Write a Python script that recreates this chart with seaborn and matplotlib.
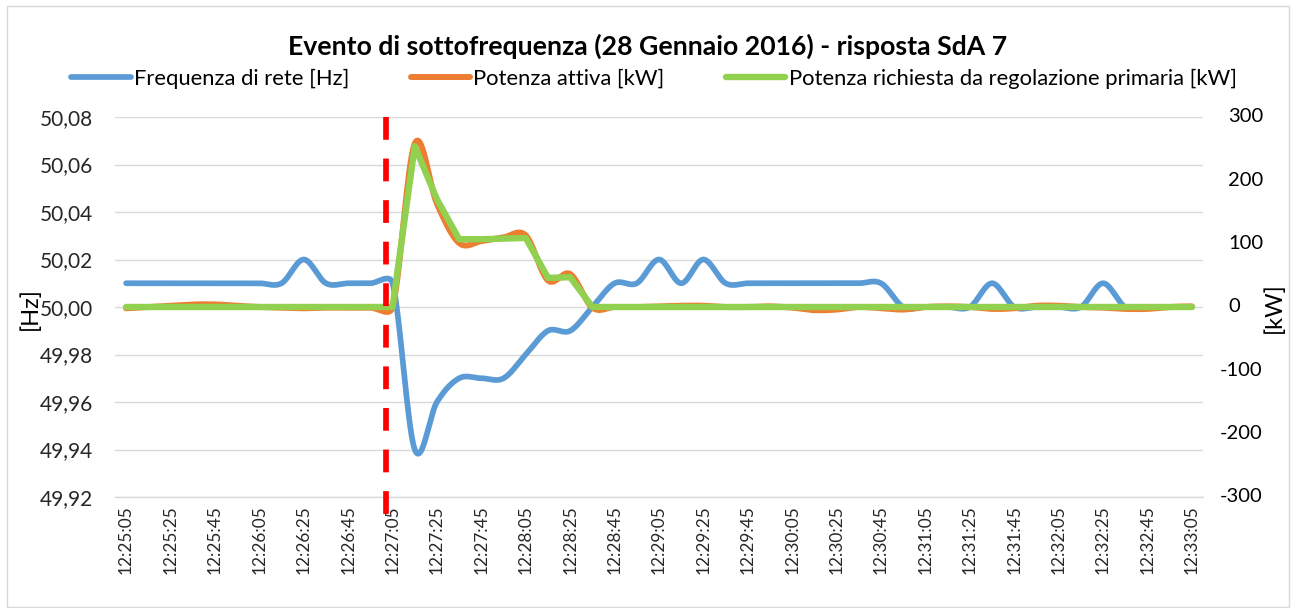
import numpy as np
import pandas as pd
import matplotlib
matplotlib.use("Agg")
import matplotlib.pyplot as plt
import seaborn as sns
from matplotlib.patches import Rectangle

# ---- data: one sample every 10 s, 12:25:05 -> 12:33:05 ----
start = pd.Timestamp("2016-01-28 12:25:05")
seconds = np.arange(0, 481, 10)

frequenza_hz = [
    50.01, 50.01, 50.01, 50.01, 50.01, 50.01, 50.01, 50.01, 50.02, 50.01,
    50.01, 50.01, 50.01, 49.94, 49.96, 49.97, 49.97, 49.97, 49.98, 49.99,
    49.99, 50.00, 50.01, 50.01, 50.02, 50.01, 50.02, 50.01, 50.01, 50.01,
    50.01, 50.01, 50.01, 50.01, 50.01, 50.00, 50.00, 50.00, 50.00, 50.01,
    50.00, 50.00, 50.00, 50.00, 50.01, 50.00, 50.00, 50.00, 50.00,
]
potenza_attiva_kw = [
    -2, 0, 2, 4, 4, 2, 0, -1, -2, -1,
    -1, -1, 0, 258, 163, 101, 104, 110, 113, 42,
    52, -1, 0, 0, 1, 2, 2, 0, 0, 1,
    -1, -5, -4, 0, -2, -4, 0, 1, 0, -3,
    -2, 2, 2, 0, -1, -3, -3, 0, 1,
]
potenza_richiesta_kw = [
    0, 0, 0, 0, 0, 0, 0, 0, 0, 0,
    0, 0, 0, 254, 170, 107, 107, 108, 109, 46,
    47, 0, 0, 0, 0, 0, 0, 0, 0, 0,
    0, 0, 0, 0, 0, 0, 0, 0, 0, 0,
    0, 0, 0, 0, 0, 0, 0, 0, 0,
]

hz_ticks = [49.92, 49.94, 49.96, 49.98, 50.00, 50.02, 50.04, 50.06, 50.08]
kw_ticks = [-300, -200, -100, 0, 100, 200, 300]
label_seconds = np.arange(0, 481, 20)
evento_seconds = 117  # 12:27:02, start of the frequency drop

title = "Evento di sottofrequenza (28 Gennaio 2016) - risposta SdA 7"
nome_freq = "Frequenza di rete [Hz]"
nome_attiva = "Potenza attiva [kW]"
nome_richiesta = "Potenza richiesta da regolazione primaria [kW]"

BLUE = "#5B9BD5"
ORANGE = "#ED7D31"
GREEN = "#92D050"
GRID = "#D9D9D9"

sns.set_style("white")
plt.rcParams["font.family"] = ["Lato", "DejaVu Sans"]
plt.rcParams["text.color"] = "#000000"

W, H = 1292, 608
fig = plt.figure(figsize=(W / 100, H / 100), dpi=100)
L, R, T, B = 115, 1203, 117, 497
ax = fig.add_axes([L / W, 1 - B / H, (R - L) / W, (B - T) / H])
ax2 = ax.twinx()

ax.set_xlim(-5, 485)
ax.set_ylim(49.92, 50.08)
ax2.set_ylim(-300, 300)


def smooth(axis, x, y, n=30):
    """Excel-style smoothed line: Bezier segments built in screen space."""
    pts = axis.transData.transform(np.column_stack([x, y]))
    P = np.vstack([pts[0], pts, pts[-1]])
    t = np.linspace(0, 1, n + 1)[1:][:, None]
    out = [pts[:1]]
    for i in range(1, len(P) - 2):
        p0, p1, p2, p3 = P[i - 1], P[i], P[i + 1], P[i + 2]
        d12 = np.hypot(*(p2 - p1))
        d02 = np.hypot(*(p2 - p0))
        d13 = np.hypot(*(p3 - p1))
        f1 = 1 / 6 if d02 / 6 <= d12 / 2 else d12 / 2 / d02
        f2 = 1 / 6 if d13 / 6 <= d12 / 2 else d12 / 2 / d13
        c1 = p1 + f1 * (p2 - p0)
        c2 = p2 - f2 * (p3 - p1)
        seg = ((1 - t) ** 3) * p1 + 3 * (1 - t) ** 2 * t * c1 + 3 * (1 - t) * t ** 2 * c2 + t ** 3 * p2
        out.append(seg)
    xy = axis.transData.inverted().transform(np.vstack(out))
    return pd.DataFrame({"x": xy[:, 0], "y": xy[:, 1]})


freq_df = smooth(ax, seconds, frequenza_hz)
att_df = smooth(ax2, seconds, potenza_attiva_kw)
ric_df = pd.DataFrame({"x": seconds, "y": potenza_richiesta_kw})

sns.lineplot(data=freq_df, x="x", y="y", ax=ax, color=BLUE, lw=4.1, sort=False,
             estimator=None, label=nome_freq, solid_capstyle="round")
sns.lineplot(data=att_df, x="x", y="y", ax=ax2, color=ORANGE, lw=4.3, sort=False,
             estimator=None, label=nome_attiva, solid_capstyle="round")
sns.lineplot(data=ric_df, x="x", y="y", ax=ax2, color=GREEN, lw=4.6, sort=False,
             estimator=None, label=nome_richiesta, solid_capstyle="round",
             solid_joinstyle="round")

# event marker
ax2.plot([evento_seconds, evento_seconds], [300, -328], color="#FF0000", lw=4.1,
         dashes=(4.0, 3.3), clip_on=False, zorder=10, solid_capstyle="butt")

for a in (ax, ax2):
    if a.get_legend() is not None:
        a.get_legend().remove()
    a.set_xlabel("")
    a.set_ylabel("")

# left axis
ax.set_yticks(hz_ticks)
ax.set_yticklabels([f"{v:.2f}".replace(".", ",") for v in hz_ticks])
ax.yaxis.grid(True, color=GRID, lw=1.0)
ax.set_axisbelow(True)
ax.tick_params(axis="y", length=0, pad=15.8, labelsize=15)

# x axis
ax.set_xticks(label_seconds)
ax.set_xticklabels([(start + pd.Timedelta(seconds=int(s))).strftime("%H:%M:%S") for s in label_seconds])
ax.set_xticks(np.arange(-5, 486, 10), minor=True)
ax.tick_params(axis="x", which="major", length=0, pad=6, labelsize=12.4, labelrotation=90)
ax.tick_params(axis="x", which="minor", length=3.6, width=0.95, color=GRID)

for s in ("left", "right", "top"):
    ax.spines[s].set_visible(False)
    ax2.spines[s].set_visible(False)
ax2.spines["bottom"].set_visible(False)
ax.spines["bottom"].set_color(GRID)
ax.spines["bottom"].set_linewidth(1.0)

# right axis
ax2.set_yticks(kw_ticks)
ax2.tick_params(axis="y", length=0, labelright=False)
ax2.grid(False)
ytr = ax2.get_yaxis_transform()
for v in kw_ticks:
    if v < 0:
        ax2.text((1262 - L) / (R - L), v, f"{v}", transform=ytr, ha="right",
                 va="center", fontsize=14.5)
    else:
        ax2.text((1228 - L) / (R - L), v, f"{v}", transform=ytr, ha="left",
                 va="center", fontsize=14.5)

fig.text(30 / W, 1 - 309 / H, "[Hz]", rotation=90, ha="center", va="center", fontsize=17)
fig.text(1274 / W, 1 - 308 / H, "[kW]", rotation=90, ha="center", va="center", fontsize=17)

fig.text(648 / W, 1 - 46 / H, title, ha="center", va="center", fontsize=19.2,
         fontweight="bold")

h1, l1 = ax.get_legend_handles_labels()
h2, l2 = ax2.get_legend_handles_labels()
fig.legend(h1 + h2, l1 + l2, loc="center", bbox_to_anchor=(654 / W, 1 - 79 / H),
           ncol=3, frameon=False, fontsize=15.8, handlelength=2.7,
           handletextpad=0.15, columnspacing=2.8)

fig.add_artist(Rectangle((6.5 / W, 1 / H), (1289 - 6.5) / W, (602 - 1) / H,
                         transform=fig.transFigure, fill=False, ec=GRID, lw=1.0))

fig.savefig("out.png", dpi=100, facecolor="white")
